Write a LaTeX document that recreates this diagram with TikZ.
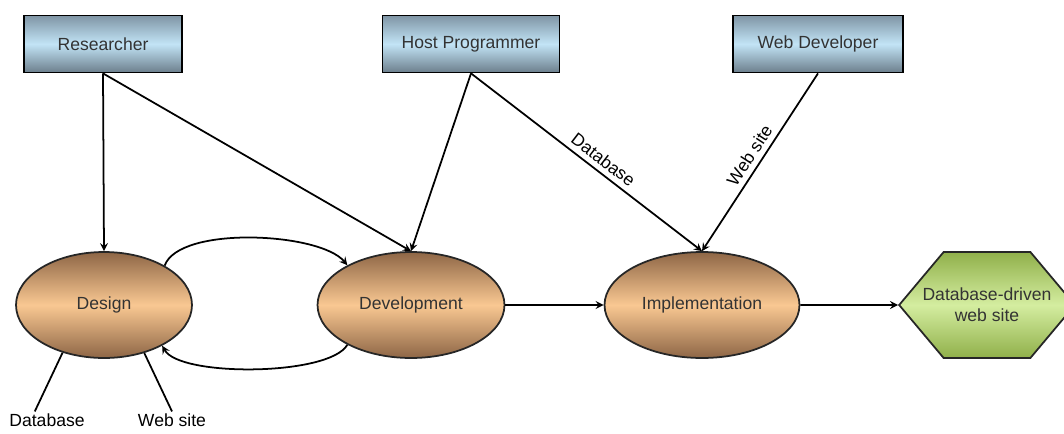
\documentclass[tikz,border=0pt]{standalone}
\usepackage{fontspec}
\setmainfont{Liberation Sans}
\usetikzlibrary{arrows,calc,positioning,shapes}
\newdimen\hdim
\newdimen\edim
\hdim=1.14cm
\edim=2.12cm
\definecolor{boxdark}{HTML}{7F95A5}
\definecolor{boxlight}{HTML}{C2E4F6}
\definecolor{ovaldark}{HTML}{8E6646}
\definecolor{ovallight}{HTML}{F9C892}
\definecolor{hexdark}{HTML}{90B04A}
\definecolor{hexlight}{HTML}{D4EDA0}
\definecolor{inkgray}{HTML}{333333}
\tikzstyle{actor}=[
  draw=black,
  line width=1pt,
  rectangle,
  inner sep=0pt,
  minimum height=\hdim,
  top color=boxdark,
  bottom color=boxdark!85!black,
  middle color=boxlight,
  text=inkgray,
]
\tikzstyle{phase}=[
  draw=black!85,
  line width=1pt,
  ellipse,
  inner sep=0pt,
  minimum height=\edim,
  top color=ovaldark,
  bottom color=ovaldark,
  middle color=ovallight,
  text=inkgray,
]
\tikzstyle{outcome}=[
  draw=black!85,
  line width=1pt,
  signal,
  signal to=west and east,
  signal pointer angle=100,
  inner ysep=0pt,
  inner xsep=-12pt,
  minimum height=\edim,
  top color=hexdark,
  bottom color=hexdark,
  middle color=hexlight,
  text=inkgray,
  align=center,
]
\tikzstyle{arrow}=[
  draw=black,
  line width=1pt,
]
\tikzstyle{arrowlabel}=[
  color=black,
  sloped,
  above,
  inner sep=3pt,
]
\tikzstyle{caption}=[
  color=black,
  inner sep=1pt,
]
\tikzset{
  >=stealth,
}
\begin{document}
\begin{tikzpicture}[x=0.02cm, y=-0.02cm]
  \useasboundingbox (0,0) rectangle (1064,433);
  \node (researcher) [actor, minimum width=3.16cm] at (103,44) {Researcher};
  \node (host) [actor, minimum width=3.54cm] at (471,44) {Host Programmer};
  \node (webdev) [actor, minimum width=3.4cm] at (818,44) {Web Developer};
  %%
  \node (design) [phase, minimum width=3.52cm] at (104,305) {Design};
  \node (development) [phase, minimum width=3.74cm] at (411,305) {Development};
  \node (implementation) [phase, minimum width=3.9cm] at (702,305) {Implementation};
  \node (website) [outcome] at (987,305) {Database-driven\\web site};
  %%
  \node (dblabel) [caption] at (47,420) {Database};
  \node (wslabel) [caption] at (172,420) {Web site};
  %%
  \draw [->, arrow] (researcher.south) -- (design.north);
  \draw [->, arrow] (researcher.south) -- (development.north);
  \draw [->, arrow] (host.south) -- (development.north);
  \draw [->, arrow] (host.south) -- node [arrowlabel, pos=.54] {Database} (implementation.north);
  \draw [->, arrow] (webdev.south) -- node [arrowlabel, pos=.5] {Web site} (implementation.north);
  \draw [->, arrow] (design.33) to [out=70, in=130, looseness=.6] (development.148);
  \draw [->, arrow] (development.212) to [out=-120, in=-60, looseness=.5] (design.325);
  \draw [->, arrow] (development) -- (implementation);
  \draw [->, arrow] (implementation) -- (website);
  \draw [arrow] (design.229) -- (dblabel.145);
  \draw [arrow] (design.310) -- (wslabel.north);
\end{tikzpicture}
\end{document}
